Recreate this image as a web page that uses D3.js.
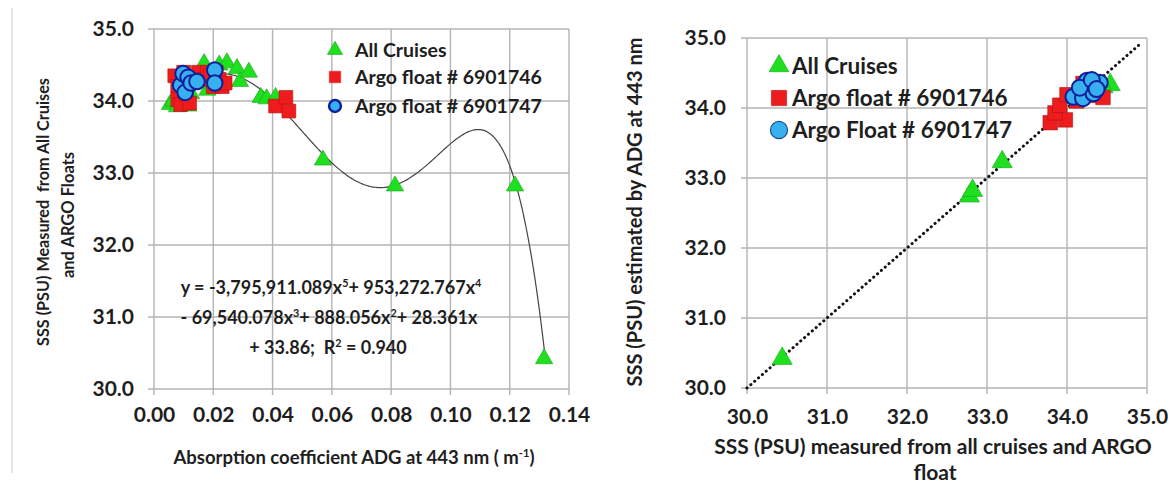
<!DOCTYPE html>
<html><head><meta charset="utf-8">
<script src="https://cdn.jsdelivr.net/npm/d3@7"></script>
<style>
body{margin:0;background:#fff;}
svg{display:block;font-family:Lato,"Open Sans",sans-serif;font-weight:bold;}
text{white-space:pre;}
</style></head>
<body>
<svg id="c" width="1173" height="484"></svg>
<script>
// ---------- DATA ----------
// Left panel: SSS vs ADG(443)
const leftXTicks = [0,0.02,0.04,0.06,0.08,0.10,0.12,0.14];
const leftYTicks = [30,31,32,33,34,35];
const cruisesADG = [
  [0.0054,33.95],[0.0065,34.0],[0.0078,33.92],[0.0098,33.95],[0.0115,33.93],
  [0.0125,34.1],[0.015,34.3],[0.0169,34.52],[0.018,34.15],[0.0195,34.25],
  [0.022,34.5],[0.0246,34.53],[0.028,34.45],[0.029,34.27],[0.032,34.4],
  [0.036,34.05],[0.038,34.03],[0.041,34.05],[0.057,33.18],[0.0813,32.82],
  [0.1218,32.82],[0.1316,30.42]
];
const argo46ADG = [
  [0.007,34.35],[0.008,34.2],[0.008,34.02],[0.009,33.95],[0.010,34.4],[0.011,34.1],
  [0.012,33.97],[0.013,34.3],[0.015,34.4],[0.016,34.3],[0.018,34.4],[0.019,34.35],
  [0.020,34.2],[0.021,34.4],[0.022,34.3],[0.023,34.2],[0.024,34.25],
  [0.041,33.93],[0.0445,34.05],[0.0455,33.86]
];
const argo47ADG = [
  [0.0090,34.22],[0.0098,34.38],[0.0105,34.12],[0.0115,34.33],[0.0125,34.25],
  [0.0145,34.27],[0.0205,34.43],[0.0205,34.25]
];
// Trendline coefficients shown on chart (x^5 ... x^0)
const polyCoef = [-3795911.089, 953272.767, -69540.078, 888.056, 28.361, 33.86];
const polyRange = [0.005, 0.1318];
// Right panel: estimated vs measured
const rightTicks = [30,31,32,33,34,35];
const cruisesEst = [
  [30.44,30.42],[32.78,32.74],[32.82,32.82],[33.19,33.23],[34.54,34.33],
  [34.3,34.25],[34.45,34.3],[34.2,34.2]
];
const argo46Est = [
  [33.79,33.79],[33.98,33.83],[33.85,33.93],[33.91,34.04],[34.0,34.19],
  [34.12,34.1],[34.2,34.25],[34.3,34.18],[34.38,34.28],[34.45,34.15],[34.2,34.35],[34.35,34.35]
];
const argo47Est = [
  [34.08,34.16],[34.2,34.14],[34.33,34.21],[34.41,34.36],[34.25,34.39],
  [34.16,34.29],[34.31,34.4],[34.37,34.27]
];
const oneToOne = [[30,30],[34.93,34.93]];

// ---------- STYLE ----------
const GREEN="#1ee01e", GREEN_S="#17a317", RED="#ee1c1c", RED_S="#b01010", BLUE="#38b0f0", BLUE_S="#0c1f9c";
const GRID="#b4b4b4", TXT="#1e1e1e";
const svg = d3.select("#c");

function panel(o){
  const g = svg.append("g").attr("transform",`translate(${o.left},${o.top})`);
  const x = d3.scaleLinear().domain(o.xd).range([0,o.w]);
  const y = d3.scaleLinear().domain(o.yd).range([o.h,0]);
  g.append("g").selectAll("line").data(o.xt).join("line")
    .attr("x1",d=>x(d)).attr("x2",d=>x(d)).attr("y1",0).attr("y2",o.h+6)
    .attr("stroke",GRID).attr("stroke-width",1.4);
  g.append("g").selectAll("line").data(o.yt).join("line")
    .attr("y1",d=>y(d)).attr("y2",d=>y(d)).attr("x1",-6).attr("x2",o.w)
    .attr("stroke",GRID).attr("stroke-width",1.4);
  const xa = g.append("g").attr("transform",`translate(0,${o.h})`)
    .call(d3.axisBottom(x).tickValues(o.xt).tickFormat(d3.format(o.xf)).tickSize(0).tickPadding(o.xpad));
  const ya = g.append("g")
    .call(d3.axisLeft(y).tickValues(o.yt).tickFormat(d3.format(".1f")).tickSize(0).tickPadding(o.ypad));
  [xa,ya].forEach(a=>{a.select(".domain").remove();
    a.attr("font-size",o.tickFont).attr("font-family","Lato");
    a.selectAll("text").style("font-size",o.tickFont+"px").attr("font-weight","bold").attr("fill",TXT);});
  return {g,x,y};
}

function marks(p, data, type, sz){
  const sym = type==="tri"?d3.symbolTriangle:(type==="sq"?d3.symbolSquare:d3.symbolCircle);
  const fill = type==="tri"?GREEN:(type==="sq"?RED:BLUE);
  const stroke = type==="tri"?GREEN_S:(type==="sq"?RED_S:BLUE_S);
  const sw = type==="cir"?2:0.6;
  p.g.append("g").selectAll("path").data(data).join("path")
    .attr("d",d3.symbol().type(sym).size(sz))
    .attr("transform",d=>`translate(${p.x(d[0])},${p.y(d[1])})`)
    .attr("fill",fill).attr("stroke",stroke).attr("stroke-width",sw);
}

function richText(x, y, size, parts, anchor){
  const t = svg.append("text").attr("x",x).attr("y",y).attr("font-size",size)
    .attr("fill",TXT).attr("text-anchor",anchor||"middle");
  let raised=false;
  parts.forEach(p=>{
    if(typeof p==="string"){
      const s=t.append("tspan").text(p);
      if(raised){s.attr("dy",size*0.4); raised=false;}
    } else {
      t.append("tspan").attr("font-size",size*0.6).attr("dy",-size*0.4).text(p.s);
      raised=true;
    }
  });
  return t;
}

// ---------- LEFT PANEL ----------
const L = panel({left:154,top:29,w:415,h:360,xd:[0,0.14],yd:[30,35],xt:leftXTicks,yt:leftYTicks,
  xf:".2f",xpad:18,ypad:20,tickFont:21});
const poly = xv => polyCoef.reduce((acc,c)=>acc*xv+c,0);
const curveX = d3.range(polyRange[0],polyRange[1],0.0005).concat([polyRange[1]]);
L.g.append("path").datum(curveX.map(v=>[v,poly(v)]))
  .attr("d",d3.line().x(d=>L.x(d[0])).y(d=>L.y(d[1])).curve(d3.curveBasis))
  .attr("fill","none").attr("stroke","#444").attr("stroke-width",1.2);
marks(L,cruisesADG,"tri",130);
marks(L,argo46ADG,"sq",190);
marks(L,argo47ADG,"cir",190);

const legL = [["tri","All Cruises"],["sq","Argo float # 6901746"],["cir","Argo float # 6901747"]];
legL.forEach((d,i)=>{
  const yy=[50,77,106][i];
  const sym = d[0]==="tri"?d3.symbolTriangle:(d[0]==="sq"?d3.symbolSquare:d3.symbolCircle);
  svg.append("path").attr("d",d3.symbol().type(sym).size(d[0]==="tri"?100:(d[0]==="sq"?130:110)))
    .attr("transform",`translate(335,${yy})`)
    .attr("fill",d[0]==="tri"?GREEN:(d[0]==="sq"?RED:BLUE))
    .attr("stroke",d[0]==="tri"?GREEN_S:(d[0]==="sq"?RED:BLUE_S)).attr("stroke-width",d[0]==="cir"?2.5:0.6);
  svg.append("text").attr("x",355).attr("y",yy).attr("dy","0.35em").attr("font-size",19.5).attr("fill",TXT).text(d[1]);
});

richText(331,294,18,["y = -3,795,911.089x",{s:"5"},"+ 953,272.767x",{s:"4"}]);
richText(329,324,18,["- 69,540.078x",{s:"3"},"+ 888.056x",{s:"2"},"+ 28.361x"]);
richText(328,354,18,["+ 33.86;  R",{s:"2"}," = 0.940"]);

richText(354,464,18.5,["Absorption coefficient ADG at 443 nm ( m",{s:"-1"},")"]);
svg.append("text").attr("transform","translate(43,212) rotate(-90)").attr("dy","0.35em").attr("text-anchor","middle")
  .attr("font-size",16.2).attr("fill",TXT).text("SSS (PSU) Measured  from All Cruises");
svg.append("text").attr("transform","translate(68,215) rotate(-90)").attr("dy","0.35em").attr("text-anchor","middle")
  .attr("font-size",16.5).attr("fill",TXT).text("and ARGO Floats");

// ---------- RIGHT PANEL ----------
const R = panel({left:747,top:38,w:400,h:350,xd:[30,35],yd:[30,35],xt:rightTicks,yt:rightTicks,
  xf:".1f",xpad:21,ypad:21,tickFont:21});
R.g.append("path").datum(oneToOne)
  .attr("d",d3.line().x(d=>R.x(d[0])).y(d=>R.y(d[1])))
  .attr("fill","none").attr("stroke","#111").attr("stroke-width",3)
  .attr("stroke-dasharray","0.1,5").attr("stroke-linecap","round");
marks(R,cruisesEst,"tri",175);
marks(R,argo46Est,"sq",210);
marks(R,argo47Est,"cir",200);

const legR = [["tri","All Cruises"],["sq","Argo float # 6901746"],["cir","Argo Float # 6901747"]];
legR.forEach((d,i)=>{
  const yy=[66,98,130][i];
  const sym = d[0]==="tri"?d3.symbolTriangle:(d[0]==="sq"?d3.symbolSquare:d3.symbolCircle);
  svg.append("path").attr("d",d3.symbol().type(sym).size(d[0]==="tri"?170:230))
    .attr("transform",`translate(779,${yy})`)
    .attr("fill",d[0]==="tri"?GREEN:(d[0]==="sq"?RED:BLUE))
    .attr("stroke",d[0]==="tri"?GREEN_S:(d[0]==="sq"?RED_S:"#1b4f8a")).attr("stroke-width",d[0]==="cir"?1.2:0.6);
  svg.append("text").attr("x",792).attr("y",yy).attr("dy","0.35em").attr("font-size",22.5).attr("fill",TXT).text(d[1]);
});

svg.append("text").attr("x",933).attr("y",447).attr("dy","0.35em").attr("text-anchor","middle")
  .attr("font-size",21).attr("fill",TXT).text("SSS (PSU) measured from all cruises and ARGO");
svg.append("text").attr("x",935).attr("y",473).attr("dy","0.35em").attr("text-anchor","middle")
  .attr("font-size",21).attr("fill",TXT).text("float");
svg.append("text").attr("transform","translate(635,212) rotate(-90)").attr("dy","0.35em").attr("text-anchor","middle")
  .attr("font-size",20).attr("fill",TXT).text("SSS (PSU) estimated by ADG at 443 nm");

svg.append("line").attr("x1",12).attr("x2",12).attr("y1",8).attr("y2",473).attr("stroke","#ddd").attr("stroke-width",1.5);
</script>
</body></html>
